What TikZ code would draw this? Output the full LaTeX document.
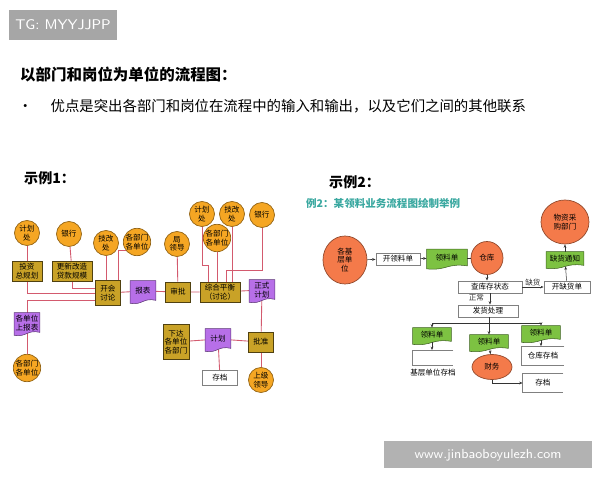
\documentclass[tikz,border=0pt]{standalone}
\usepackage{fontspec}
\setmainfont{Noto Sans CJK SC}
\usetikzlibrary{calc, arrows.meta, backgrounds, shapes.geometric}
\definecolor{orng}{HTML}{F5A623}
\definecolor{orng2}{HTML}{F47A4A}
\definecolor{gold}{HTML}{C9A227}
\definecolor{purp}{HTML}{B76FE8}
\definecolor{grn}{HTML}{7DC242}
\definecolor{redl}{HTML}{D35A6E}
\definecolor{teal2}{HTML}{3AA8A0}
\tikzset{
  circ/.style={circle, fill=orng, draw=orng!60!black, minimum size=5mm, inner sep=0pt, align=center},
  gbox/.style={fill=gold, draw=gold!40!black, minimum width=#1, minimum height=4mm, inner sep=0.5pt, align=center},
  gbox/.default=5mm,
  pdoc/.style={minimum width=#1, minimum height=4mm, inner sep=0.5pt, align=center},
  pdoc/.default=5mm,
  gdoc/.style={minimum width=#1, minimum height=2.8mm, inner sep=0.5pt},
  gdoc/.default=7.6mm,
  wbox/.style={draw=gray, fill=white, minimum width=#1, minimum height=2.4mm, inner sep=0.5pt},
  wbox/.default=9mm,
  obox/.style={minimum width=8mm, minimum height=3mm},
  ell/.style={ellipse, fill=orng2, draw=orng2!60!black, inner sep=0pt, align=center},
  rl/.style={redl, line width=0.5pt},
  bl/.style={black!80, line width=0.3pt, -{Stealth[length=2pt]}},
}
% paper-like shape under a node
\newcommand{\docshape}[2]{%
  \path[fill=#2, draw=#2!50!black, line width=0.3pt] (#1.north west) -- (#1.north east)
    -- ($(#1.south east)+(0,-1)$) .. controls ($(#1.south)+(0,-4)$) and ($(#1.south)+(0,4)$) .. ($(#1.south west)+(0,2)$) -- cycle;}
% box open on the right
\newcommand{\openbox}[1]{%
  \draw[gray] (#1.north east) -- (#1.north west) -- (#1.south west) -- (#1.south east);}

\begin{document}
\begin{tikzpicture}[x=0.02cm, y=-0.02cm, font=\fontsize{4.3}{4.8}\selectfont]
\useasboundingbox (0,0) rectangle (600,480);

% header
\fill[gray!70] (9,10) rectangle (117,40);
\node[white, font=\fontsize{8}{9}\selectfont\sffamily] (tg) at (63,25) {TG: MYYJJPP};
\node[anchor=west, font=\fontsize{8.8}{9}\selectfont\bfseries] (title) at (14,75) {以部门和岗位为单位的流程图：};
\node[anchor=west, font=\fontsize{8.2}{9}\selectfont] (bul) at (12,106) {•\hspace{3.6mm}优点是突出各部门和岗位在流程中的输入和输出，以及它们之间的其他联系};
\node[anchor=west, font=\fontsize{8}{9}\selectfont\bfseries] (ex1) at (18,178) {示例1：};
\node[anchor=west, font=\fontsize{8}{9}\selectfont\bfseries] (ex2) at (323,182) {示例2：};

%% example 1
\node[circ] (c1) at (27,233) {计划\\处};
\node[circ] (c2) at (69,234) {银行};
\node[circ] (c3) at (106,243) {技改\\处};
\node[circ] (c4) at (137,242) {各部门\\各单位};
\node[circ] (c5) at (177,244) {局\\领导};
\node[circ] (c6) at (202,214) {计划\\处};
\node[circ] (c7) at (232,214) {技改\\处};
\node[circ] (c8) at (217,238) {各部门\\各单位};
\node[circ] (c9) at (262,215) {银行};
\node[circ] (c10) at (27,368) {各部门\\各单位};
\node[circ] (c11) at (261,380) {上级\\领导};

\node[gbox=6mm] (tz) at (27,271) {投资\\总规划};
\node[gbox=8mm] (gx) at (72,271) {更新改造\\贷款规模};
\node[gbox=5mm, minimum height=5mm] (kh) at (108,293) {开会\\讨论};
\node[pdoc] (bb) at (143,291) {报表};
\node[gbox] (sp) at (178,292) {审批};
\node[gbox=8mm] (zh) at (220,292) {综合平衡\\（讨论）};
\node[pdoc] (zs) at (262,290) {正式\\计划};
\node[pdoc] (sb) at (27,323) {各单位\\上报表};
\node[gbox=5.2mm, minimum height=7mm] (xd) at (176,342) {下达\\各单位\\各部门};
\node[pdoc] (jh) at (218,339) {计划};
\node[gbox] (pz) at (261,342) {批准};
\node[wbox=7mm, minimum height=3mm] (cd) at (220,378) {存档};
\docshape{bb}{purp}
\docshape{zs}{purp}
\docshape{sb}{purp}
\docshape{jh}{purp}
\node[pdoc] at (bb) {报表};
\node[pdoc] at (zs) {正式\\计划};
\node[pdoc] at (sb) {各单位\\上报表};
\node[pdoc] at (jh) {计划};

\begin{scope}[on background layer]
\draw[rl] (c1) -- (tz);
\draw[rl] (c2) -- (gx);
\draw[rl] (tz.south) |- (kh.west |- 0,293);
\draw[rl] (gx.south) |- (kh.west |- 0,288);
\draw[rl] (sb.north) |- (kh.west |- 0,300);
\draw[rl] (c3) -- (c3 |- kh.north);
\draw[rl] ($(kh.north east)+(-2,0)$) -- ++(0,-30) -| (c4);
\draw[rl] (kh) -- (bb) (bb) -- (sp) (sp) -- (zh) (zh) -- (zs);
\draw[rl] (c5) -- (sp);
\draw[rl] (c6) |- (208,265) -- (208,265 |- zh.north);
\draw[rl] (c8) -- (c8 |- zh.north);
\draw[rl] (c7) -- (c7 |- zh.north);
\draw[rl] (c9) |- (226,270) -- (226,270 |- zh.north);
\draw[rl] (zs) -- (pz);
\draw[rl] (pz) -- (c11);
\draw[rl] (pz) -- (jh) (jh) -- (xd);
\draw[rl] (jh) -- (cd);
\draw[rl] (sb) -- (c10);
\end{scope}

%% example 2
\node[teal2, font=\fontsize{6}{7}\selectfont\bfseries, anchor=west] (t2) at (300,203) {例2：某领料业务流程图绘制举例};
\node[ell, minimum width=8.8mm, minimum height=9.6mm] (jc) at (345,260) {各基\\层单\\位};
\node[wbox=8.8mm] (kl) at (398,259) {开领料单};
\node[gdoc=8mm, minimum height=3.4mm] (ld1) at (447,258) {领料单};
\node[ell, minimum width=6.4mm, minimum height=6.6mm] (ck) at (487,258) {仓库};
\node[ell, minimum width=9.6mm, minimum height=8.8mm] (wz) at (565,222) {物资采\\购部门};
\node[gdoc=7.4mm] (qh) at (565,259) {缺货通知};
\node[wbox=12.8mm] (cx) at (490,287) {查库存状态};
\node[wbox=9.2mm] (kq) at (567,287) {开缺货单};
\node[wbox=12mm] (fh) at (488,311) {发货处理};
\node[gdoc] (ld2) at (432,335) {领料单};
\node[gdoc] (ld3) at (489,342) {领料单};
\node[gdoc] (ld4) at (541,333) {领料单};
\docshape{ld1}{grn}
\docshape{qh}{grn}
\docshape{ld2}{grn}
\docshape{ld3}{grn}
\docshape{ld4}{grn}
\node at (ld1) {领料单};
\node at (qh) {缺货通知};
\node at (ld2) {领料单};
\node at (ld3) {领料单};
\node at (ld4) {领料单};
\node[ell, minimum width=8mm, minimum height=5mm] (cw) at (492,367) {财务};
\node[obox] (jd) at (433,358) {};
\openbox{jd}
\node (jdl) at (433,373) {基层单位存档};
\node[obox] (kd) at (543,356) {仓库存档};
\openbox{kd}
\node[obox] (cd2) at (543,383) {存档};
\openbox{cd2}

\draw[bl] (jc) -- (kl);
\draw[bl] (kl) -- (ld1);
\draw[black!80, line width=0.3pt] (ld1) -- (ck);
\draw[bl] (ck) -- (cx.north -| ck);
\draw[bl] (cx) -- node[above, fill=white, inner sep=0.5pt] (qhl) {缺货} (kq);
\draw[bl] (kq) -- (qh);
\draw[bl] (qh) -- (wz);
\draw[bl] (cx.south -| 490,0) -- node[left, pos=0.4] (zc) {正常} (fh.north -| 490,0);
\coordinate (br) at (489,323);
\draw[black!80, line width=0.3pt] (fh.south -| br) -- (br);
\draw[bl] (br) -| (ld2.north);
\draw[bl] (br) -| (ld4.north);
\draw[bl] (br) -- (ld3.north -| br);
\draw[bl] (ld2) -- (ld2 |- jd.north);
\draw[bl] (ld4) -- (ld4 |- kd.north);
\draw[bl] (ld3) -- (cw);
\draw[bl] (cw.south) |- (cd2.west);

% watermark
\fill[gray!60] (384,441) rectangle (592,468);
\node[white, font=\fontsize{7.5}{8}\selectfont\sffamily] (wm) at (488,455) {www.jinbaoboyulezh.com};
\end{tikzpicture}
\end{document}
